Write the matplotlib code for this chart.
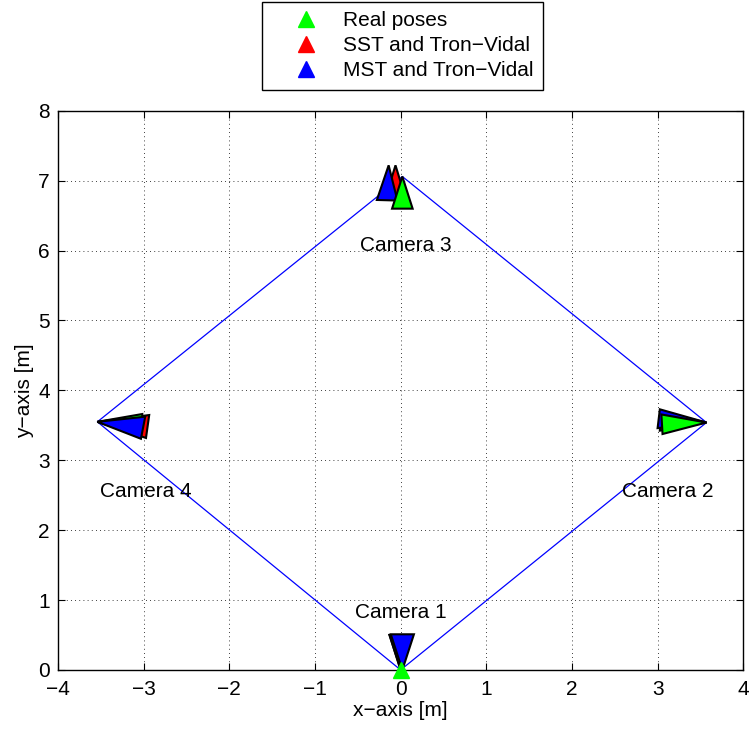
import numpy as np
import matplotlib
matplotlib.use("Agg")
import matplotlib.pyplot as plt
from matplotlib.patches import Polygon
from matplotlib.lines import Line2D

plt.rcParams['font.family'] = ['Liberation Sans', 'DejaVu Sans']

# camera poses: apex x, apex y, viewing heading [deg], frustum depth, half width
cams = ['Camera 1', 'Camera 2', 'Camera 3', 'Camera 4']

real_x = [0.0, 3.57, 0.02, -3.54]
real_y = [0.0, 3.54, 7.06, 3.55]
real_h = [90, 182.7, 270, -2]
real_d = [0.5, 0.52, 0.46, 0.52]
real_w = [0.13, 0.14, 0.12, 0.13]

sst_x = [0.0, 3.57, -0.06, -3.54]
sst_y = [0.0, 3.54, 7.22, 3.55]
sst_h = [90, 178, 270, -6.5]
sst_d = [0.5, 0.54, 0.48, 0.59]
sst_w = [0.13, 0.135, 0.12, 0.165]

mst_x = [0.02, 3.57, -0.14, -3.54]
mst_y = [0.0, 3.54, 7.22, 3.55]
mst_h = [90, 174.4, 268, -9]
mst_d = [0.51, 0.56, 0.5, 0.54]
mst_w = [0.135, 0.135, 0.12, 0.16]

green_on_top = [False, True, True, False]

label_x = [0.0, 3.115, 0.065, -2.98]
label_y = [0.815, 2.55, 6.08, 2.55]

FS = 15


def frustum(x, y, h, d, w):
    a = np.deg2rad(h)
    cx, cy = x + d * np.cos(a), y + d * np.sin(a)
    px, py = -np.sin(a) * w, np.cos(a) * w
    return [[x, y], [cx + px, cy + py], [cx - px, cy - py]]


fig = plt.figure(figsize=(7.49, 7.29), dpi=100)
ax = fig.add_axes([0.0774, 0.081, 0.915, 0.767])

# path between the real camera centres
px = real_x + [real_x[0]]
py = real_y + [real_y[0]]
ax.plot(px, py, color='blue', lw=0.9, zorder=2)

for i in range(4):
    zg = 6 if green_on_top[i] else 4
    ax.add_patch(Polygon(frustum(real_x[i], real_y[i], real_h[i], real_d[i], real_w[i]),
                         closed=True, fc=(0, 1, 0), ec='black', lw=1.5, zorder=zg))
    ax.add_patch(Polygon(frustum(sst_x[i], sst_y[i], sst_h[i], sst_d[i], sst_w[i]),
                         closed=True, fc=(1, 0, 0), ec='black', lw=1.5, zorder=3))
    ax.add_patch(Polygon(frustum(mst_x[i], mst_y[i], mst_h[i], mst_d[i], mst_w[i]),
                         closed=True, fc=(0, 0, 1), ec='black', lw=1.5, zorder=5))
    ax.text(label_x[i], label_y[i], cams[i], ha='center', va='center', fontsize=FS, zorder=7)

# reference camera marker
ax.plot(real_x[0], real_y[0], marker='^', color=(0, 1, 0), ms=11, ls='none',
        clip_on=False, zorder=8)

ax.set_xlim(-4, 4)
ax.set_ylim(0, 8)
ax.set_xticks(np.arange(-4, 5, 1))
ax.set_yticks(np.arange(0, 9, 1))
ax.tick_params(direction='in', top=True, right=True, labelsize=FS, length=5)
ax.tick_params(axis='x', pad=7)
ax.tick_params(axis='y', pad=6)
ax.grid(True, color='black', linestyle=(0, (1, 4)), linewidth=0.6)
ax.set_axisbelow(True)
for s in ax.spines.values():
    s.set_linewidth(1.0)
ax.set_xlabel('x\u2212axis [m]', fontsize=FS, labelpad=2)
ax.set_ylabel('y\u2212axis [m]', fontsize=FS, labelpad=3)

handles = [Line2D([], [], marker='^', color=c, ls='none', ms=11)
           for c in [(0, 1, 0), (1, 0, 0), (0, 0, 1)]]
leg = fig.legend(handles, ['Real poses', 'SST and Tron\u2212Vidal', 'MST and Tron\u2212Vidal'],
                 loc='upper center', bbox_to_anchor=(0.5374, 1.0), fontsize=FS,
                 frameon=True, fancybox=False, edgecolor='black', framealpha=1,
                 labelspacing=0.28, handlelength=3.3, handletextpad=0.15,
                 borderpad=0.45, borderaxespad=0.1)
leg.get_frame().set_linewidth(1.0)

fig.savefig('out.png', dpi=100)
